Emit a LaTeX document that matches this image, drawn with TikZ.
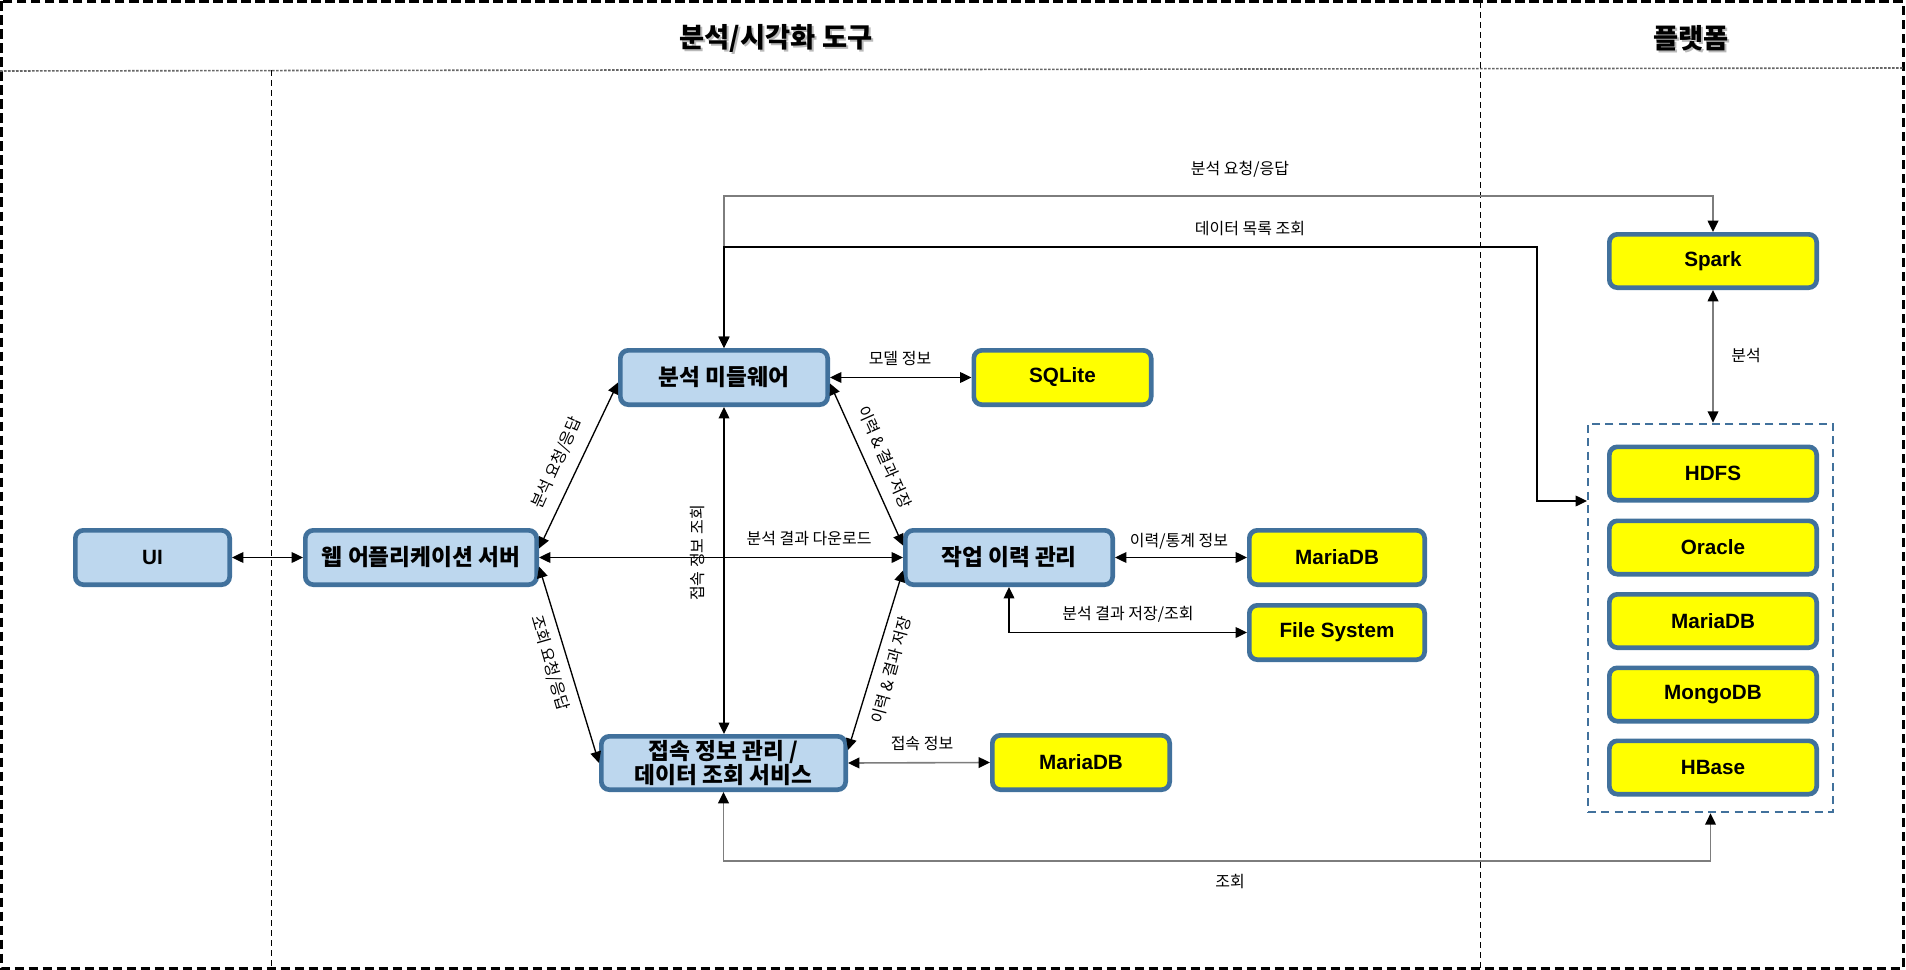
\documentclass[tikz,border=0pt]{standalone}
\usepackage{fontspec}
\setmainfont{Liberation Sans}
\newfontfamily\kr{Noto Sans CJK KR}
\usetikzlibrary{arrows.meta,calc}
\definecolor{bordc}{RGB}{65,113,156}
\definecolor{bluef}{RGB}{189,215,238}
\definecolor{yelf}{RGB}{255,255,0}
\definecolor{lgray}{RGB}{125,125,125}
\begin{document}
\begin{tikzpicture}[x=0.75pt,y=-0.75pt,
  >={Triangle[length=8.5pt,width=8pt,color=black]},
  box/.style={draw=bordc, line width=3.5pt, rounded corners=6pt, align=center, inner sep=1pt},
  krb/.style={font=\kr\bfseries\fontsize{17}{18}\selectfont},
  enb/.style={font=\bfseries\fontsize{15.5}{18}\selectfont},
  bluebox/.style={box, krb, fill=bluef, minimum height=40.75pt},
  yelbox/.style={box, enb, fill=yelf, minimum height=40.75pt, minimum width=133pt},
  platbox/.style={box, enb, fill=yelf, minimum height=40pt, minimum width=155.5pt},
  conn/.style={line width=1pt, black},
  gconn/.style={line width=1.2pt, lgray},
  lab/.style={font=\kr\fontsize{12}{14}\selectfont, inner sep=1pt},
  title/.style={font=\kr\bfseries\fontsize{20.5}{24}\selectfont, inner sep=0pt},
]
\useasboundingbox (0,0) rectangle (1906,970);
% frame
\draw[line width=2.25pt, dash pattern=on 7pt off 3.5pt] (1.5,1.5) rectangle (1903,968.5);
\draw[line width=1.2pt, gray!80!black, dash pattern=on 2pt off 1pt] (0,71) -- (1903,68);
\draw[line width=0.75pt, dash pattern=on 4.5pt off 3pt] (1480,2) -- (1480,968);
\draw[line width=0.75pt, dash pattern=on 4.5pt off 3pt] (271,70) -- (271,968);
% titles
\node[title, text=gray!55] (t1s) at (778,40) {분석/시각화 도구};
\node[title] (t1) at (776,38) {분석/시각화 도구};
\node[title, text=gray!55] (t2s) at (1693,40) {플랫폼};
\node[title] (t2) at (1691,38) {플랫폼};
% nodes
\node[bluebox, minimum width=115.75pt, enb] (ui) at (152.5,557.5) {UI};
\node[bluebox, minimum width=173.5pt] (web) at (421,557.5) {웹 어플리케이션 서버};
\node[bluebox, minimum width=155.5pt] (mw) at (724,377.5) {분석 미들웨어};
\node[bluebox, minimum width=155.5pt] (job) at (1009,557.5) {작업 이력 관리};
\node[bluebox, minimum width=183.25pt, minimum height=40pt, inner sep=0pt] (svc) at (723.5,763) {접속 정보 관리 /\\데이터 조회 서비스};
\node[yelbox] (sqlite) at (1062.5,377.5) {SQLite};
\node[yelbox, minimum width=131.5pt] (mdb1) at (1337,557.5) {MariaDB};
\node[yelbox, minimum width=131.5pt] (fs) at (1337,632.5) {File System};
\node[yelbox] (mdb2) at (1081,762.5) {MariaDB};
\node[platbox] (spark) at (1713,261) {Spark};
\node[draw=bordc, line width=1.5pt, dash pattern=on 6pt off 4pt, minimum width=183.75pt, minimum height=291.5pt, inner sep=0pt] (cont) at (1710.5,618) {};
\node[platbox] (hdfs) at (1713,473.5) {HDFS};
\node[platbox] (ora) at (1713,547.5) {Oracle};
\node[platbox] (mdb3) at (1713,621) {MariaDB};
\node[platbox] (mongo) at (1713,694.5) {MongoDB};
\node[platbox] (hbase) at (1713,767.5) {HBase};
% connectors
\draw[gconn,<->] (mw.north) -- ++(0,-152) -| (spark.north);
\draw[gconn,<->] (spark.south) -- (spark.south |- cont.north);
\draw[gconn,<->] (svc.south) -- ++(0,69) -| (cont.south);
\draw[gconn,<->] (svc.east) -- (mdb2.west);
\coordinate (dl) at (1537,247);
\draw[conn,<->] (mw.north) |- (dl) |- ($(cont.west)+(0,-117)$);
\draw[conn,<->] (ui.east) -- (web.east -| web.west);
\draw[conn,<->] (web.east) -- (job.west);
\draw[conn,<->] ($(web.east)+(0,-9)$) -- ($(mw.west)+(0,5)$);
\draw[conn,<->] ($(web.east)+(0,9)$) -- (svc.west);
\draw[conn,<->] (mw.south) -- (svc.north -| mw.south);
\draw[conn,<->] ($(mw.east)+(0,6)$) -- ($(job.west)+(0,-12)$);
\draw[conn,<->] ($(svc.east)+(0,-13)$) -- ($(job.west)+(0,13)$);
\draw[conn,<->] (mw.east) -- (sqlite.west);
\draw[conn,<->] (job.east) -- (mdb1.west);
\draw[conn,<->] (job.south) |- (fs.west);
% labels
\node[lab] (l1) at (1240,169) {분석 요청/응답};
\node[lab] (l2) at (1250,229) {데이터 목록 조회};
\node[lab] (l3) at (1746,356) {분석};
\node[lab] (l4) at (1230,882) {조회};
\node[lab] (l5) at (900,358) {모델 정보};
\node[lab] (l6) at (809,539) {분석 결과 다운로드};
\node[lab] (l7) at (1179,541) {이력/통계 정보};
\node[lab] (l8) at (1128,614) {분석 결과 저장/조회};
\node[lab] (l9) at (922,744) {접속 정보};
\node[lab, rotate=66] (l10) at (557,463) {분석 요청/응답};
\node[lab, rotate=-74] (l11) at (550,663) {조회 요청/응답};
\node[lab, rotate=90] (l12) at (697,553) {접속 정보 조회};
\node[lab, rotate=-66] (l13) at (885,457) {이력 \& 결과 저장};
\node[lab, rotate=75] (l14) at (891,670) {이력 \& 결과 저장};
\end{tikzpicture}
\end{document}
